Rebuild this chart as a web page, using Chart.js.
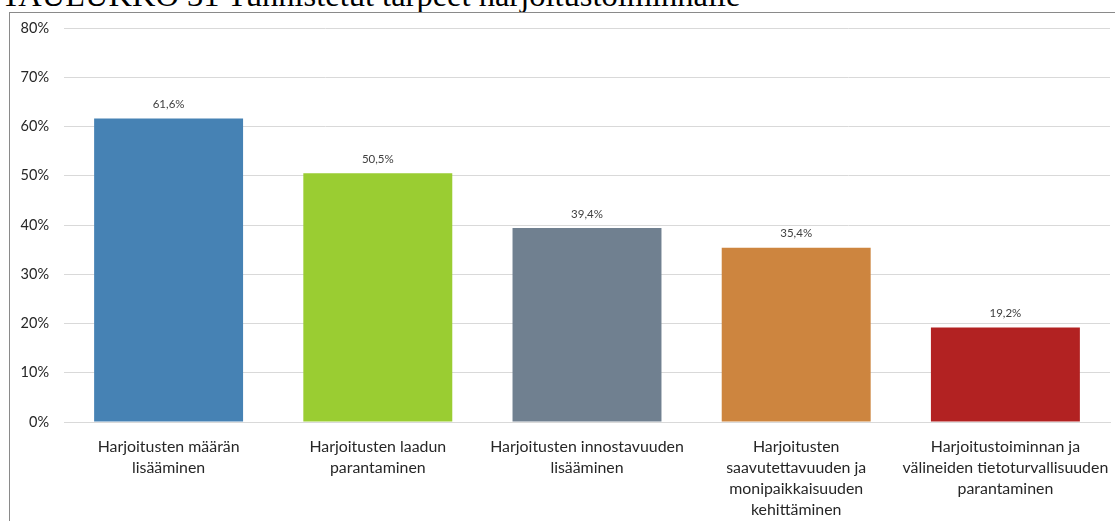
<!DOCTYPE html>
<html lang="fi">
<head>
<meta charset="utf-8">
<title>Tunnistetut tarpeet harjoitustoiminnalle</title>
<script src="https://cdn.jsdelivr.net/npm/chart.js@4/dist/chart.umd.min.js"></script>
<style>
  html, body { margin: 0; padding: 0; background: #fff; overflow: hidden; }
  body { width: 1115px; height: 521px; position: relative; }
  #title {
    position: absolute; left: 1px; top: -22px; margin: 0;
    font-family: "Liberation Serif", "DejaVu Serif", serif;
    font-size: 32.5px; line-height: 34px; font-weight: normal; color: #000;
    white-space: nowrap;
  }
  #frame {
    position: absolute; left: 9px; top: 12px; width: 1200px; height: 600px;
    border: 1px solid #8a8a8a; box-sizing: border-box; background: #fff;
  }
  #chart { position: absolute; left: 10px; top: 13px; }
</style>
</head>
<body>
<h1 id="title">TAULUKKO 31 Tunnistetut tarpeet harjoitustoiminnalle</h1>
<div id="frame"></div>
<canvas id="chart" width="1105" height="560"></canvas>
<script>
// Tarpeet ja niiden osuudet vastaajista (%)
const categories = [
  ["Harjoitusten määrän", "lisääminen"],
  ["Harjoitusten laadun", "parantaminen"],
  ["Harjoitusten innostavuuden", "lisääminen"],
  ["Harjoitusten", "saavutettavuuden ja", "monipaikkaisuuden", "kehittäminen"],
  ["Harjoitustoiminnan ja", "välineiden tietoturvallisuuden", "parantaminen"]
];
const shares = [61.6, 50.5, 39.4, 35.4, 19.2];
const barColors = ["#4682b4", "#9acd32", "#708090", "#cd853f", "#b22222"];
const yTicks = [0, 10, 20, 30, 40, 50, 60, 70, 80];

const fmtPct = v => v.toFixed(1).replace(".", ",") + "%";

// Arvotekstit pylväiden yläpuolelle
const valueLabels = {
  id: "valueLabels",
  afterDatasetsDraw(chart) {
    const ctx = chart.ctx;
    ctx.save();
    ctx.font = "11.5px Lato, sans-serif";
    ctx.fillStyle = "#404040";
    ctx.textAlign = "center";
    ctx.textBaseline = "middle";
    chart.getDatasetMeta(0).data.forEach((bar, i) => {
      ctx.fillText(fmtPct(chart.data.datasets[0].data[i]), bar.x, bar.y - 14);
    });
    ctx.restore();
  }
};

new Chart(document.getElementById("chart"), {
  type: "bar",
  data: {
    labels: categories,
    datasets: [{
      data: shares,
      backgroundColor: barColors,
      borderWidth: 0,
      categoryPercentage: 1,
      barPercentage: 0.712
    }]
  },
  options: {
    responsive: false,
    animation: false,
    devicePixelRatio: 1,
    layout: { padding: { top: 15, right: 5, left: 0, bottom: 0 } },
    plugins: {
      legend: { display: false },
      title: { display: false },
      tooltip: { enabled: false }
    },
    scales: {
      x: {
        // invisible tick marks keep the labels clear of the axis line
        grid: {
          display: true, drawOnChartArea: false, drawTicks: true,
          tickLength: 14, tickColor: "rgba(0,0,0,0)"
        },
        border: { display: true, color: "#d9d9d9", width: 1 },
        ticks: {
          color: "#262626",
          font: { family: "Lato, sans-serif", size: 15.9, lineHeight: 1.32 },
          padding: 0,
          maxRotation: 0,
          minRotation: 0,
          autoSkip: false
        },
        afterFit(scale) { scale.height = 151; }
      },
      y: {
        min: 0,
        max: 80,
        afterBuildTicks(scale) { scale.ticks = yTicks.map(v => ({ value: v })); },
        grid: {
          color: "#d9d9d9", lineWidth: 1, drawTicks: true,
          tickLength: 15, tickColor: "rgba(0,0,0,0)"
        },
        border: { display: false },
        ticks: {
          color: "#262626",
          font: { family: "Lato, sans-serif", size: 14.5 },
          padding: 0,
          callback: v => v + "%"
        },
        afterFit(scale) { scale.width = 54; }
      }
    }
  },
  plugins: [valueLabels]
});
</script>
</body>
</html>
